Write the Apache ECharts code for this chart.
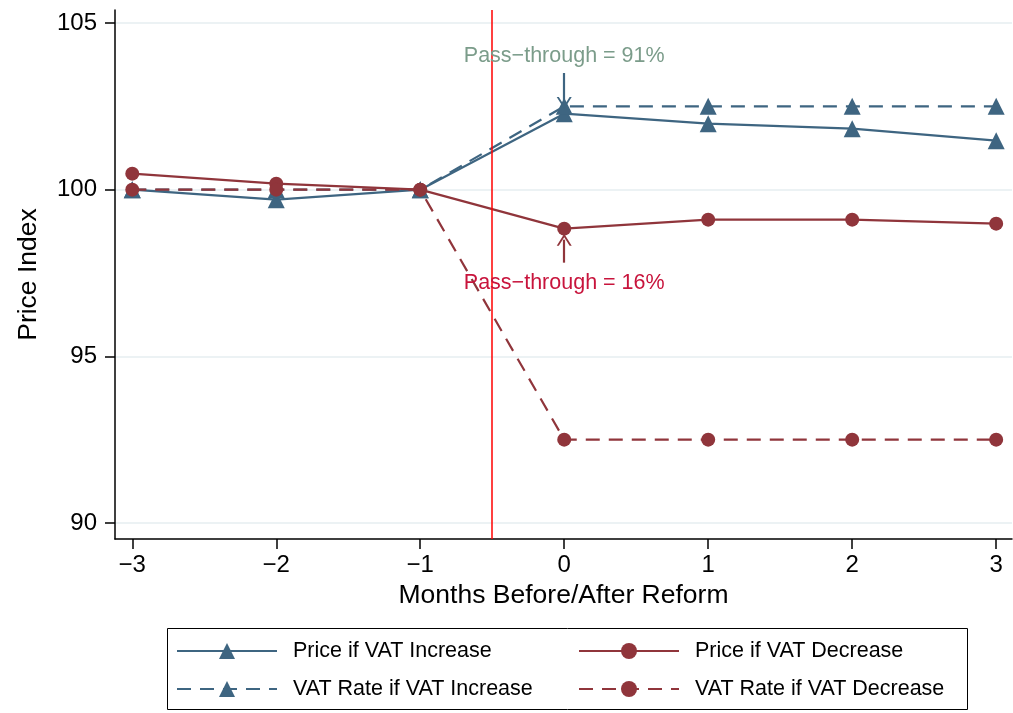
<!DOCTYPE html>
<html>
<head>
<meta charset="utf-8">
<script src="https://cdn.jsdelivr.net/npm/echarts@6/dist/echarts.min.js"></script>
<style>
  html, body { margin: 0; padding: 0; background: #fff; }
  #chart { width: 1013px; height: 713px; }
</style>
</head>
<body>
<div id="chart"></div>
<script>
// data
const months = [-3, -2, -1, 0, 1, 2, 3]
const priceIncrease = [100, 99.7, 100, 102.28, 101.98, 101.83, 101.47]
const rateIncrease = [100, 100, 100, 102.5, 102.5, 102.5, 102.5]
const priceDecrease = [100.48, 100.18, 100, 98.83, 99.1, 99.1, 98.98]
const rateDecrease = [100, 100, 100, 92.5, 92.5, 92.5, 92.5]
const yTicks = [90, 95, 100, 105]
const xTicks = [-3, -2, -1, 0, 1, 2, 3]
const reformLine = -0.5

const blue = '#3e6581'
const maroon = '#90353b'
const font = '"Liberation Sans", Arial, Helvetica, sans-serif'
const minus = v => String(v).replace('-', '\u2212')
const pairs = ys => months.map((m, i) => [m, ys[i]])
const arrowHead = 'path://M0,10 L5,0 L10,10 L8.6,10 L5,2.9 L1.4,10 Z'

const names = ['Price if VAT Increase', 'VAT Rate if VAT Increase', 'Price if VAT Decrease', 'VAT Rate if VAT Decrease']

const chart = echarts.init(document.getElementById('chart'))

const legendBase = {
  top: 640, orient: 'vertical', itemGap: 16,
  itemWidth: 100, itemHeight: 20, selectedMode: false, padding: 0,
  textStyle: { fontSize: 21.5, color: '#000', padding: [0, 0, 0, 11] }
}

chart.setOption({
  animation: false,
  textStyle: { fontFamily: font },
  grid: { left: 115, right: 1, top: 10, bottom: 174 },
  xAxis: {
    type: 'value',
    min: -3.12,
    max: 3.11,
    name: 'Months Before/After Reform',
    nameLocation: 'middle',
    nameGap: 41,
    nameTextStyle: { fontSize: 26.5, color: '#000' },
    axisLine: { onZero: false, lineStyle: { color: '#000', width: 1.5 } },
    axisTick: { customValues: xTicks, length: 10, lineStyle: { color: '#000', width: 1.5 } },
    axisLabel: { customValues: xTicks, fontSize: 24, color: '#000', margin: 14, formatter: minus },
    splitLine: { show: false }
  },
  yAxis: {
    type: 'value',
    min: 89.52,
    max: 105.39,
    name: 'Price Index',
    nameLocation: 'middle',
    nameGap: 73,
    nameTextStyle: { fontSize: 26.5, color: '#000' },
    axisLine: { show: true, onZero: false, lineStyle: { color: '#000', width: 1.5 } },
    axisTick: { show: true, customValues: yTicks, length: 10, lineStyle: { color: '#000', width: 1.5 } },
    axisLabel: { customValues: yTicks, fontSize: 24, color: '#000', margin: 18 },
    splitLine: { show: true, lineStyle: { color: '#e6eef1', width: 1.5 } }
  },
  legend: [
    Object.assign({ left: 176, data: [names[0], names[1]] }, legendBase),
    Object.assign({ left: 578, data: [names[2], names[3]] }, legendBase)
  ],
  graphic: [{
    type: 'rect',
    left: 165, top: 626,
    shape: { width: 800, height: 81 },
    style: { fill: 'none', stroke: '#000', lineWidth: 1 }
  }],
  series: [{
    name: names[0],
    type: 'line',
    data: pairs(priceIncrease),
    symbol: 'triangle',
    symbolSize: 17,
    lineStyle: { color: blue, width: 2.2 },
    itemStyle: { color: blue },
    markLine: {
      silent: true,
      symbol: ['none', arrowHead],
      symbolSize: [15, 12],
      label: { show: false },
      lineStyle: { color: blue, width: 2.2, type: 'solid' },
      data: [[{ coord: [0, 103.5] }, { coord: [0, 102.6] }]]
    },
    markPoint: {
      silent: true,
      symbol: 'circle',
      symbolSize: 1,
      itemStyle: { color: 'transparent' },
      label: { show: true, position: 'inside', fontSize: 21.5, color: '#7b9c8a', formatter: 'Pass\u2212through = 91%' },
      data: [{ coord: [0, 104.02] }]
    }
  }, {
    name: names[1],
    type: 'line',
    data: pairs(rateIncrease),
    symbol: 'triangle',
    symbolSize: 17,
    lineStyle: { color: blue, width: 2.2, type: [14, 9] },
    itemStyle: { color: blue }
  }, {
    name: names[2],
    type: 'line',
    data: pairs(priceDecrease),
    symbol: 'circle',
    symbolSize: 14,
    lineStyle: { color: maroon, width: 2.2 },
    itemStyle: { color: maroon },
    markLine: {
      silent: true,
      symbol: ['none', arrowHead],
      symbolSize: [15, 12],
      label: { show: false },
      lineStyle: { color: maroon, width: 2.2, type: 'solid' },
      data: [[{ coord: [0, 97.81] }, { coord: [0, 98.5] }]]
    },
    markPoint: {
      silent: true,
      symbol: 'circle',
      symbolSize: 1,
      itemStyle: { color: 'transparent' },
      label: { show: true, position: 'inside', fontSize: 21.5, color: '#c8143c', formatter: 'Pass\u2212through = 16%' },
      data: [{ coord: [0, 97.21] }]
    }
  }, {
    name: names[3],
    type: 'line',
    data: pairs(rateDecrease),
    symbol: 'circle',
    symbolSize: 14,
    lineStyle: { color: maroon, width: 2.2, type: [14, 9] },
    itemStyle: { color: maroon },
    markLine: {
      silent: true,
      symbol: 'none',
      label: { show: false },
      lineStyle: { color: '#ff0000', width: 1.5, type: 'solid' },
      data: [{ xAxis: reformLine }]
    }
  }]
})
</script>
</body>
</html>
